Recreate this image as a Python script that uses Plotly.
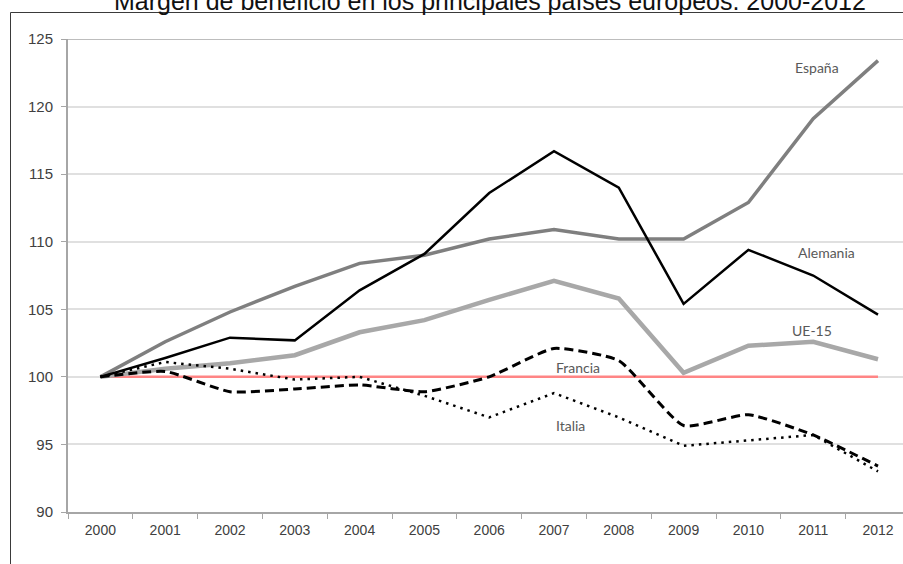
"""
Margen de beneficio en los principales paises europeos, 2000-2012
"""

import plotly.graph_objects as go

# Data
years = [str(y) for y in range(2000, 2013)]
espana = [100, 102.6, 104.8, 106.7, 108.4, 109.0, 110.2, 110.9, 110.2, 110.2, 112.9, 119.1, 123.4]
alemania = [100, 101.4, 102.9, 102.7, 106.4, 109.1, 113.6, 116.7, 114.0, 105.4, 109.4, 107.5, 104.6]
ue15 = [100, 100.6, 101.0, 101.6, 103.3, 104.2, 105.7, 107.1, 105.8, 100.3, 102.3, 102.6, 101.3]
francia = [100, 100.4, 98.9, 99.1, 99.4, 98.9, 100.0, 102.1, 101.2, 96.4, 97.2, 95.7, 93.4]
italia = [100, 101.1, 100.6, 99.8, 100.0, 98.6, 97.0, 98.8, 97.0, 94.9, 95.3, 95.7, 93.0]
reference = [100] * len(years)

y_ticks = [90, 95, 100, 105, 110, 115, 120, 125]
title = 'Margen de beneficio en los principales países europeos. 2000-2012'

# text labels next to the lines: (text, x index, y value)
line_labels = [
    ('España', 11.06, 122.9),
    ('Alemania', 11.21, 109.2),
    ('UE-15', 10.98, 103.45),
    ('Francia', 7.37, 100.7),
    ('Italia', 7.26, 96.4),
]

W, H = 903, 564
M_L, M_R, M_T, M_B = 68, 0, 39, 52
plot_w = W - M_L - M_R
plot_h = H - M_T - M_B


def px_x(px):
    return (px - M_L) / plot_w


def px_y(py):
    return (H - M_B - py) / plot_h


fig = go.Figure()

fig.add_trace(go.Scatter(x=years, y=reference, mode='lines',
                         line=dict(color='#ff8585', width=2.5), hoverinfo='skip'))
fig.add_trace(go.Scatter(x=years, y=ue15, mode='lines', name='UE-15',
                         line=dict(color='#a8a8a8', width=4.5)))
fig.add_trace(go.Scatter(x=years, y=espana, mode='lines', name='España',
                         line=dict(color='#7f7f7f', width=3.5)))
fig.add_trace(go.Scatter(x=years, y=alemania, mode='lines', name='Alemania',
                         line=dict(color='#000000', width=2.5)))
fig.add_trace(go.Scatter(x=years, y=francia, mode='lines', name='Francia',
                         line=dict(color='#000000', width=3, dash='9px,5px',
                                   shape='spline', smoothing=0.5)))
fig.add_trace(go.Scatter(x=years, y=italia, mode='lines', name='Italia',
                         line=dict(color='#000000', width=2.5, dash='2.5px,5px')))

for text, xi, yv in line_labels:
    fig.add_annotation(x=xi, y=yv, xref='x', yref='y', text=text, showarrow=False,
                       font=dict(family='Lato, Open Sans, sans-serif', size=14, color='#595959'))

# title, partly cut at the top like the original
fig.add_annotation(x=px_x(490), y=px_y(1), xref='paper', yref='paper', text=title,
                   showarrow=False, xanchor='center', yanchor='middle',
                   font=dict(family='Liberation Sans, Arial', size=25, color='#111111'))

# outer frame (left and top edges)
frame_x = px_x(10.5)
frame_y = px_y(12.5)
fig.add_shape(type='line', xref='paper', yref='paper', x0=frame_x, x1=frame_x,
              y0=-0.5, y1=frame_y, line=dict(color='#3a3a3a', width=1))
fig.add_shape(type='line', xref='paper', yref='paper', x0=frame_x, x1=1.2,
              y0=frame_y, y1=frame_y, line=dict(color='#3a3a3a', width=1))
# top gridline slightly darker
fig.add_shape(type='line', xref='paper', yref='y', x0=0, x1=1.2, y0=125, y1=125,
              line=dict(color='#bdbdbd', width=2), layer='below')

fig.update_layout(
    width=W, height=H,
    margin=dict(l=M_L, r=M_R, t=M_T, b=M_B, autoexpand=False),
    paper_bgcolor='white', plot_bgcolor='white',
    showlegend=False,
    font=dict(family='Liberation Sans, Arial', color='#595959'),
)
fig.update_xaxes(
    type='category', range=[-0.5, (W - M_L) / 64.8 - 0.5], automargin=False,
    showgrid=False, showline=True, linecolor='#a6a6a6', linewidth=2,
    ticks='outside', tickson='boundaries', ticklen=5, tickcolor='#a6a6a6',
    ticklabelstandoff=4, tickfont=dict(size=14, color='#404040'),
)
fig.update_yaxes(
    range=[90, 125], tickvals=y_ticks, automargin=False,
    showgrid=True, gridcolor='#e0e0e0', gridwidth=2,
    showline=True, linecolor='#a6a6a6', linewidth=2,
    ticks='outside', ticklen=5, tickcolor='#a6a6a6', ticklabelstandoff=5,
    tickfont=dict(size=15, color='#404040'), zeroline=False,
)

# the page's default body margin would shift the figure by 8px
fig.write_html("out.html", config={'displayModeBar': False},
               post_script="document.body.style.margin='0';")
